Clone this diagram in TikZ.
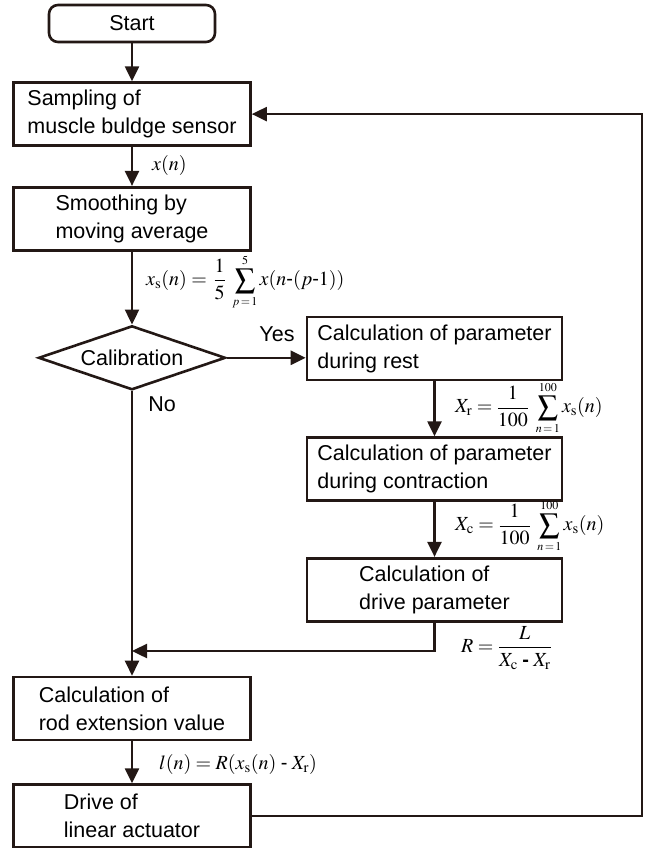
\documentclass[tikz,border=0pt]{standalone}
\usepackage{amsmath}
\usepackage{mathptmx}
\usepackage[no-math]{fontspec}
\setmainfont{Liberation Sans}
\usepackage{tikz}
\usetikzlibrary{
  arrows.meta,
  shapes.geometric,
  positioning,
  calc
}
\definecolor{fcInk}{HTML}{231815}
\newcommand{\hy}{\text{-}}
\newcommand{\tsum}[2]{\mathop{\displaystyle\sum}\limits_{\scriptscriptstyle #1}^{\scriptscriptstyle #2}}
\tikzset{
  fcnode/.style={
    draw=fcInk, line width=2.6pt, font=\fontsize{21.5}{28}\selectfont, align=left,
    text=black, inner sep=0pt
  },
  fcbox/.style={fcnode, minimum width=237pt, minimum height=63pt},
  fcwide/.style={fcnode, minimum width=255pt, minimum height=63pt},
  fcstart/.style={fcnode, rounded corners=9pt, minimum width=166pt, minimum height=37pt},
  decision/.style={fcnode, diamond, aspect=2.9, minimum width=187pt, minimum height=64pt},
  flow/.style={-{Triangle[length=15pt,width=14pt]}, line width=2.4pt, fcInk},
  eqlabel/.style={font=\fontsize{20}{24}\selectfont, anchor=west, inner sep=0pt},
  branch/.style={font=\fontsize{21.5}{24}\selectfont, inner sep=0pt}
}
\begin{document}
\begin{tikzpicture}[x=1pt, y=-1pt]
  \useasboundingbox (0,0) rectangle (646,848);
  % main column
  \node[fcstart] (start) at (132,23.5) {Start};
  \node[fcbox, below=38pt of start] (sampling) {Sampling of\\muscle buldge sensor};
  \node[fcbox, below=39pt of sampling] (smoothing) {Smoothing by\\moving average};
  \node[decision, below=73pt of smoothing] (calib) {Calibration};
  \node[fcbox] (rod) at (132,708.5) {Calculation of\\rod extension value};
  \node[fcbox, below=42pt of rod] (drive) {Drive of\\linear actuator};
  % calibration branch
  \node[fcwide] (rest) at (434.5,348.5) {Calculation of parameter\\during rest};
  \node[fcwide, below=55pt of rest] (contraction) {Calculation of parameter\\during contraction};
  \node[fcwide, below=55pt of contraction] (drivepar) {Calculation of\\drive parameter};
  \coordinate (merge) at (132,651);
  % connectors
  \draw[flow] (start) -- (sampling);
  \draw[flow] (sampling) -- (smoothing);
  \draw[flow] (smoothing) -- (calib);
  \draw[flow] (calib.east) -- (calib.east -| rest.west);
  \draw[flow] (rest) -- (contraction);
  \draw[flow] (contraction) -- (drivepar);
  \draw[flow] (calib.south) -- (rod.north);
  \draw[flow] (drivepar.south) |- (merge);
  \draw[flow] (rod) -- (drive);
  \draw[flow] (drive.east) -- ++(390,0) |- (sampling.east);
  % labels
  \node[branch] (yes) at (277,334) {Yes};
  \node[branch] (no) at (162,404) {No};
  \node[eqlabel] (eqx) at (152,165) {$x(n)$};
  \node[eqlabel] (eqxs) at (146,282)
    {$x_{\mathrm{s}}(n) = \,\dfrac{1}{5}\;\tsum{p\,=\,1}{5} x(n\hy(p\hy1))$};
  \node[eqlabel] (eqxr) at (455,408)
    {$X_{\mathrm{r}} = \dfrac{1}{100}\;\tsum{n\,=\,1}{100} x_{\mathrm{s}}(n)$};
  \node[eqlabel] (eqxc) at (455,526)
    {$X_{\mathrm{c}} = \dfrac{1}{100}\;\tsum{n\,=\,1}{100} x_{\mathrm{s}}(n)$};
  \node[eqlabel] (eqr) at (461,648)
    {$R = \dfrac{L}{X_{\mathrm{c}}\;\textbf{-}\;X_{\mathrm{r}}}$};
  \node[eqlabel] (eql) at (159,764)
    {$l(n) = R(x_{\mathrm{s}}(n)\;\hy\;X_{\mathrm{r}})$};
\end{tikzpicture}
\end{document}
